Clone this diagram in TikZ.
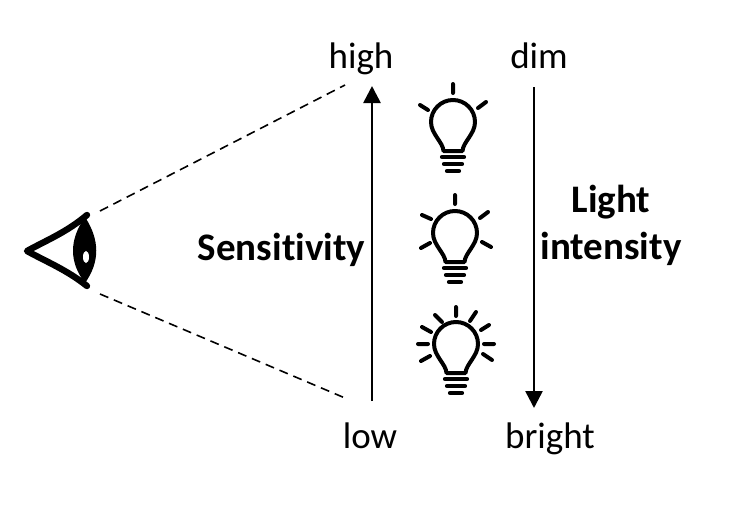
\documentclass[tikz,border=0pt]{standalone}
\usepackage{fontspec}
\setmainfont[Ligatures=NoCommon]{Carlito}
\usetikzlibrary{arrows.meta}
\tikzset{
  lbl/.style={inner sep=0pt,anchor=base,font=\fontsize{37}{44}\selectfont},
  blbl/.style={inner sep=0pt,anchor=base,font=\fontsize{39}{44}\selectfont\bfseries},
  ray/.style={line width=4pt,line cap=round},
  bulbline/.style={line width=4pt,line join=round},
  axisarrow/.style={line width=2.6pt,-{Triangle[length=17pt,width=17pt]}},
  sight/.style={line width=1.6pt,dash pattern=on 9pt off 6pt},
}
\newcommand{\lightbulb}[2]{%
\begin{scope}[shift={(#1,#2)}]
  \draw[bulbline] (-9.5,31) .. controls (-10,22) and (-22,14) .. (-22,2)
     arc[start angle=180,end angle=360,radius=22]
     .. controls (22,14) and (10,22) .. (9.5,31) -- cycle;
  \draw[line width=4.2pt,line cap=round] (-11,37) -- (11,37);
  \draw[line width=4.2pt,line cap=round] (-9,44) -- (9,44);
  \draw[line width=4.2pt,line cap=round] (-6,51) -- (6,51);
\end{scope}}
\begin{document}
\begin{tikzpicture}[x=1pt,y=-1pt]
\useasboundingbox (0,0) rectangle (742,504);
\fill[white] (0,0) rectangle (742,504);
% labels
\node[lbl] (high) at (361,68) {high};
\node[lbl] (dim) at (539,68) {dim};
\node[lbl] (low) at (370,448) {low};
\node[lbl] (bright) at (550,448) {bright};
\node[blbl] (sens) at (281.5,260) {Sensitivity};
\node[blbl] (light) at (611,212) {Light};
\node[blbl] (intens) at (611,259) {intensity};
% arrows
\coordinate (upS) at (372,401); \coordinate (upE) at (372,86);
\coordinate (dnS) at (534,87); \coordinate (dnE) at (534,408);
\draw[axisarrow] (upS) -- (upE);
\draw[axisarrow] (dnS) -- (dnE);
% eye
\coordinate (apex) at (27,251);
\coordinate (lidT) at (87,215);
\coordinate (lidB) at (87,286);
\draw[line width=6.4pt,line cap=round,line join=round] (lidT) .. controls (67,232) and (47,240) .. (apex) .. controls (47,262) and (67,270) .. (lidB);
\fill (85,217) .. controls (69,240) and (69,262) .. (85,283) .. controls (100,262) and (100,240) .. (85,217) -- cycle;
\fill[white] (86,257) ellipse[x radius=3pt,y radius=6pt];
% sight lines
\coordinate (st) at (100,211); \coordinate (se) at (345,85);
\coordinate (bt) at (100,294); \coordinate (be) at (345,398);
\draw[sight] (st) -- (se);
\draw[sight] (bt) -- (be);
% bulbs
\lightbulb{453}{120}
\lightbulb{455}{231}
\lightbulb{456}{342}
\draw[ray] (453,84)--(453,93) (420,105)--(428,110) (478,108)--(486,102);
\draw[ray] (455,195)--(455,204) (422,215)--(431,219) (480,218)--(488,212) (421,248)--(430,243) (482,242)--(491,247);
\draw[ray] (456,307)--(456,316) (435,315)--(442,322) (476,312)--(470,321) (422,327)--(431,332) (481,330)--(489,325) (418,344)--(428,344) (484,344)--(494,344) (421,361)--(430,356) (483,354)--(492,360);
\end{tikzpicture}
\end{document}
